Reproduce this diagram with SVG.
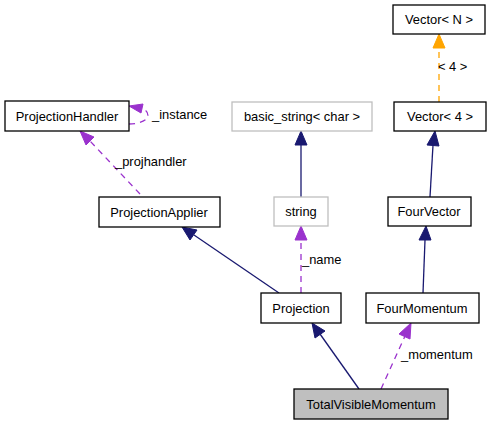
<svg xmlns="http://www.w3.org/2000/svg" width="489" height="424" viewBox="0 0 489 424">
<defs>
<style>
.box{fill:#ffffff;stroke:#000000;stroke-width:1.3}
.gbox{fill:#ffffff;stroke:#bfbfbf;stroke-width:1.3}
.cur{fill:#bfbfbf;stroke:#000000;stroke-width:1.3}
text{font-family:"Liberation Sans",Arial,sans-serif;font-size:12.9px;fill:#000000}
.t{text-anchor:middle}
.inh{fill:none;stroke:#191970;stroke-width:1.3}
.use{fill:none;stroke:#9a32cd;stroke-width:1.3;stroke-dasharray:6,5}
.tpl{fill:none;stroke:#ffa500;stroke-width:1.3;stroke-dasharray:6,5}
</style>
</defs>
<rect width="489" height="424" fill="#ffffff"/>
<g id="connectors">
<!-- Vector<4> -> Vector<N> -->
<path class="tpl" d="M439,102 L439,48"/>
<polygon points="433,48 439,34 445,48" fill="#ffa500" stroke="#ffa500"/>
<text x="438" y="71">&lt; 4 &gt;</text>
<!-- FourVector -> Vector<4> -->
<path class="inh" d="M430,197 L433,145"/>
<polygon points="427,145 435,131 439,146" fill="#191970" stroke="#191970"/>
<!-- string -> basic_string -->
<path class="inh" d="M301,197 L301,145"/>
<polygon points="295,145 301,131 307,145" fill="#191970" stroke="#191970"/>
<!-- FourMomentum -> FourVector -->
<path class="inh" d="M423,293 L425,240"/>
<polygon points="419,240 426,226 431,240" fill="#191970" stroke="#191970"/>
<!-- Projection -> ProjectionApplier -->
<path class="inh" d="M279,293 L194,235"/>
<polygon points="190,240 182,227 197,230" fill="#191970" stroke="#191970"/>
<!-- Projection -> string (_name) -->
<path class="use" d="M301,293 L301,240"/>
<polygon points="295,240 301,226 307,240" fill="#9a32cd" stroke="#9a32cd"/>
<text x="302" y="264">_name</text>
<!-- TotalVisibleMomentum -> Projection -->
<path class="inh" d="M359,389 L320,334"/>
<polygon points="315,338 312,323 325,331" fill="#191970" stroke="#191970"/>
<!-- TotalVisibleMomentum -> FourMomentum (_momentum) -->
<path class="use" d="M381,389 L405,336"/>
<polygon points="399,334 411,323 410,339" fill="#9a32cd" stroke="#9a32cd"/>
<text x="401" y="359">_momentum</text>
<!-- ProjectionApplier -> ProjectionHandler (_projhandler) -->
<path class="use" d="M140,194 L90,141"/>
<polygon points="86,145 80,131 94,137" fill="#9a32cd" stroke="#9a32cd"/>
<text x="115" y="166">_projhandler</text>
<!-- ProjectionHandler self loop (_instance) -->
<path class="use" d="M129,124 C139,124 148,120 148,116 C148,112 146,110 142,109"/>
<polygon points="143,104 129,106 141,113" fill="#9a32cd" stroke="#9a32cd"/>
<text x="152" y="119">_instance</text>
</g>
<g id="node-vectorN">
<rect class="box" x="393" y="5" width="92" height="29"/>
<text class="t" x="439" y="24">Vector&lt; N &gt;</text>
</g>
<g id="node-vector4">
<rect class="box" x="394" y="102" width="92" height="29"/>
<text class="t" x="440" y="121">Vector&lt; 4 &gt;</text>
</g>
<g id="node-basic_string">
<rect class="gbox" x="232" y="102" width="140" height="29"/>
<text class="t" x="302" y="121">basic_string&lt; char &gt;</text>
</g>
<g id="node-projectionhandler">
<rect class="box" x="5" y="101" width="124" height="30"/>
<text class="t" x="67" y="121">ProjectionHandler</text>
</g>
<g id="node-string">
<rect class="gbox" x="274" y="197" width="54" height="29"/>
<text class="t" x="301" y="216">string</text>
</g>
<g id="node-fourvector">
<rect class="box" x="388" y="197" width="83" height="29"/>
<text class="t" x="429" y="216">FourVector</text>
</g>
<g id="node-projectionapplier">
<rect class="box" x="99" y="197" width="121" height="30"/>
<text class="t" x="159" y="217">ProjectionApplier</text>
</g>
<g id="node-projection">
<rect class="box" x="261" y="293" width="80" height="30"/>
<text class="t" x="301" y="313">Projection</text>
</g>
<g id="node-fourmomentum">
<rect class="box" x="366" y="293" width="113" height="30"/>
<text class="t" x="422" y="313">FourMomentum</text>
</g>
<g id="node-totalvisiblemomentum">
<rect class="cur" x="294" y="389" width="154" height="30"/>
<text class="t" x="371" y="409">TotalVisibleMomentum</text>
</g>
</svg>
